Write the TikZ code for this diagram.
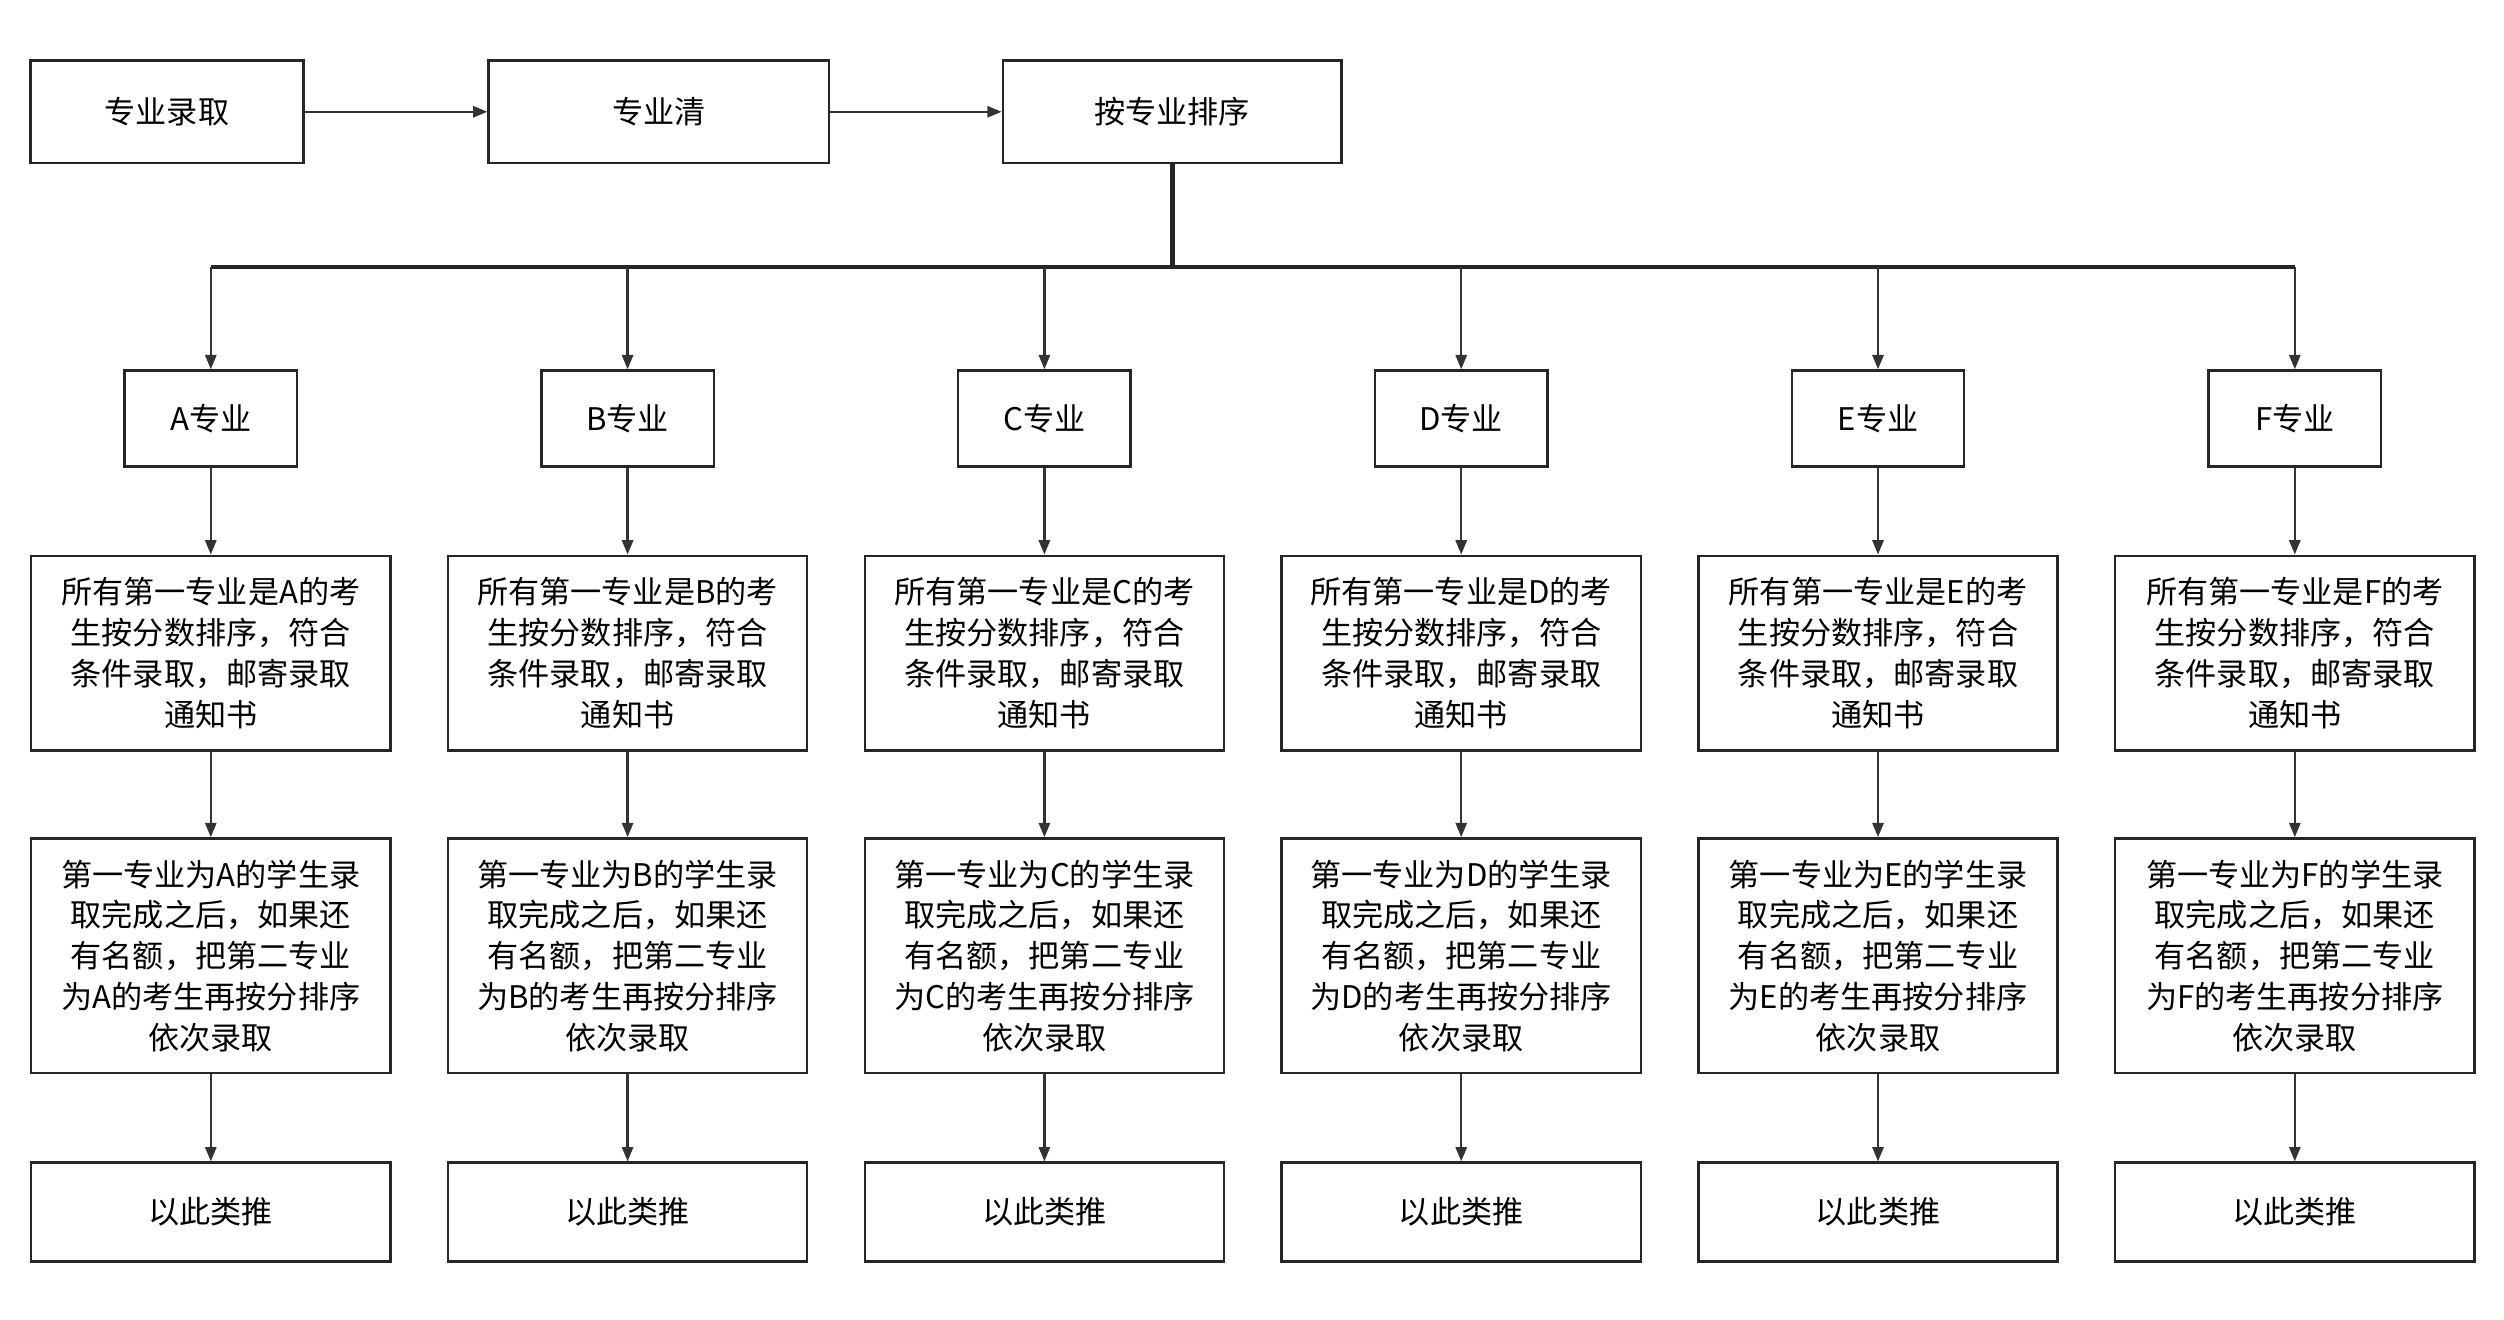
\documentclass[tikz,border=0pt]{standalone}
\usepackage{fontspec}
\setmainfont{Noto Sans CJK SC}
\usetikzlibrary{arrows.meta}
\begin{document}
\begin{tikzpicture}[x=1pt,y=-1pt,
  box/.style={draw=black!85,line width=1.5pt,inner sep=0pt,font=\fontsize{19.5}{25.5}\selectfont,align=center},
  arr/.style={draw=black!80,line width=1.5pt,-{Triangle[length=9pt,width=7pt]}}]
\useasboundingbox (0,0) rectangle (1568,826);
\fill[white] (0,0) rectangle (1568,826);
\node[box,minimum width=171pt,minimum height=64pt] (t1) at (104.5,70) {专业录取};
\node[box,minimum width=213pt,minimum height=64pt] (t2) at (412.5,70) {专业清};
\node[box,minimum width=212pt,minimum height=64pt] (t3) at (734,70) {按专业排序};
\draw[arr] (t1) -- (t2);
\draw[arr] (t2) -- (t3);
\coordinate (bus) at (734,167);
\draw[black!85,line width=3pt] (t3.south) -- (bus);
\draw[black!85,line width=2.5pt] (132,167) -- (1437,167);
\foreach \L [count=\i from 0] in {A,B,C,D,E,F}{
  \pgfmathsetmacro{\cx}{132+261*\i}
  \coordinate (b\L) at (\cx,167);
  \node[box,minimum width=108pt,minimum height=60pt] (m\L) at (\cx,262) {\L 专业};
  \node[box,minimum width=225pt,minimum height=122pt] (p\L) at (\cx,409) {所有第一专业是\L 的考\\生按分数排序，符合\\条件录取，邮寄录取\\通知书};
  \node[box,minimum width=225pt,minimum height=147pt] (q\L) at (\cx,598.5) {第一专业为\L 的学生录\\取完成之后，如果还\\有名额，把第二专业\\为\L 的考生再按分排序\\依次录取};
  \node[box,minimum width=225pt,minimum height=62pt] (r\L) at (\cx,759) {以此类推};
  \draw[arr] (b\L) -- (m\L);
  \draw[arr] (m\L) -- (p\L);
  \draw[arr] (p\L) -- (q\L);
  \draw[arr] (q\L) -- (r\L);
}
\end{tikzpicture}
\end{document}
